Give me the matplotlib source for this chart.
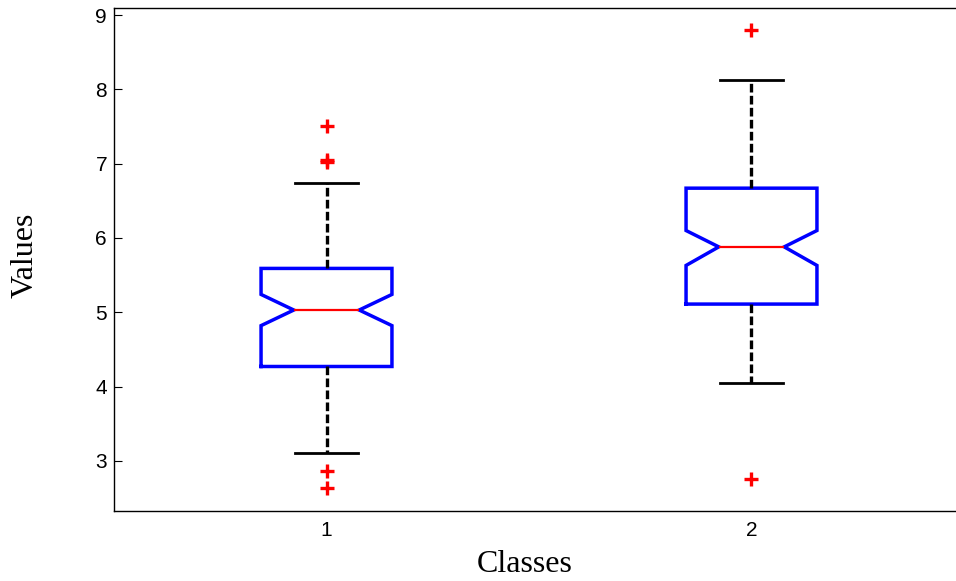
import matplotlib
matplotlib.use("Agg")
import matplotlib.pyplot as plt

# per-class summary statistics
classes = ["1", "2"]
medians = [5.03, 5.88]
q1 = [4.27, 5.11]
q3 = [5.59, 6.67]
notch_lo = [4.82, 5.63]
notch_hi = [5.24, 6.10]
whisker_lo = [3.11, 4.05]
whisker_hi = [6.74, 8.13]
outliers = [[7.51, 7.02, 7.05, 2.86, 2.64], [8.80, 2.75]]

stats = []
for i in range(len(classes)):
    stats.append({
        "label": classes[i],
        "med": medians[i],
        "q1": q1[i],
        "q3": q3[i],
        "cilo": notch_lo[i],
        "cihi": notch_hi[i],
        "whislo": whisker_lo[i],
        "whishi": whisker_hi[i],
        "fliers": outliers[i],
    })

fig = plt.figure(figsize=(9.56, 5.81), dpi=100)
ax = fig.add_axes([114 / 956, 70 / 581, 850 / 956, 503 / 581])

ax.bxp(
    stats,
    positions=[1, 2],
    widths=0.308,
    capwidths=0.146,
    shownotches=True,
    boxprops=dict(color="#0000ff", linewidth=2.5, solid_joinstyle="miter"),
    medianprops=dict(color="#ff0000", linewidth=1.6),
    whiskerprops=dict(color="black", linewidth=2.4, linestyle=(0, (2.6, 1.0))),
    capprops=dict(color="black", linewidth=2.0),
    flierprops=dict(marker="+", markeredgecolor="#ff0000", markersize=10,
                    markeredgewidth=2.4),
)

ax.set_xlim(0.5, 2.5)
ax.set_ylim(2.325, 9.095)
ax.set_yticks([3, 4, 5, 6, 7, 8, 9])
ax.set_xticks([1, 2])
ax.set_xticklabels(classes)

for sp in ax.spines.values():
    sp.set_linewidth(1.0)
    sp.set_color("black")

tick_font = "Liberation Sans"
ax.tick_params(axis="y", direction="in", length=6, width=0.8, pad=5,
               left=True, right=True, labelsize=15)
ax.tick_params(axis="x", length=0, pad=7, labelsize=15)
for lab in ax.get_xticklabels() + ax.get_yticklabels():
    lab.set_fontfamily(tick_font)

fig.text(524.5 / 956, 1 - 571.5 / 581, "Classes", family="Liberation Serif",
         fontsize=23, ha="center", va="baseline")
fig.text(33 / 956, 1 - 255 / 581, "Values", family="Liberation Serif",
         fontsize=23, ha="center", va="baseline", rotation=90,
         rotation_mode="anchor")

fig.savefig("out.png", dpi=100)
